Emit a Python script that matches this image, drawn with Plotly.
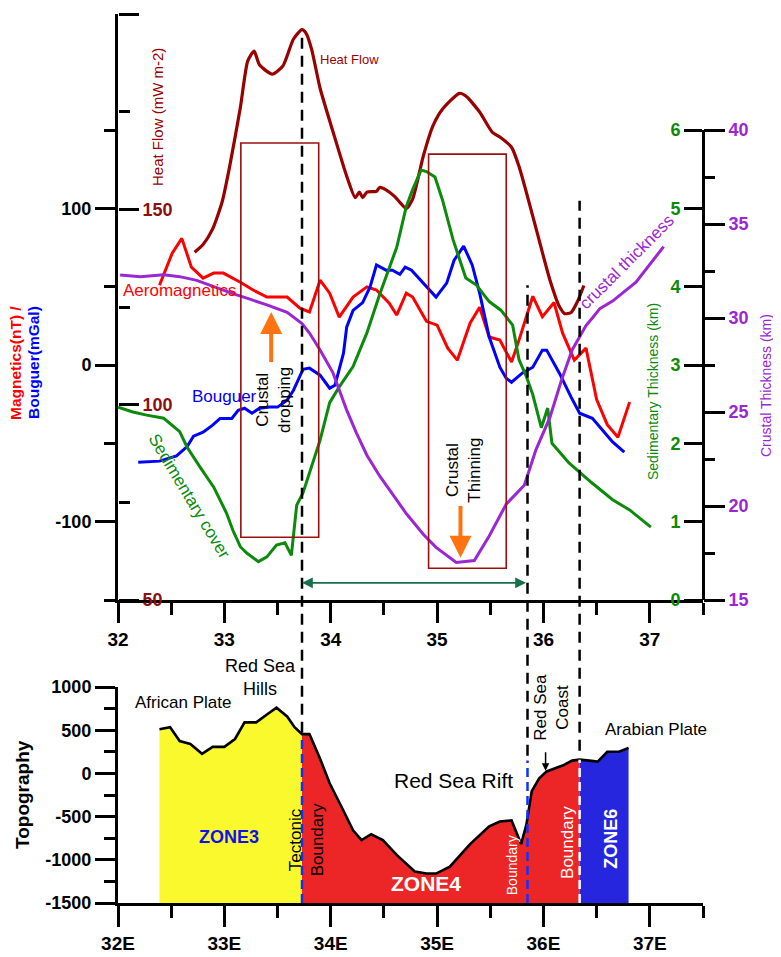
import plotly.graph_objects as go

# ---------------- data ----------------
hf_lon = [32.72, 32.80, 32.89, 32.98, 33.05, 33.15, 33.22, 33.28, 33.33, 33.45, 33.55, 33.65, 33.73, 33.77,
          33.82, 33.90, 34.02, 34.15, 34.23, 34.27, 34.30, 34.34, 34.43, 34.46, 34.52, 34.60, 34.65, 34.71,
          34.77, 34.87, 34.96, 35.05, 35.21, 35.27, 35.40, 35.52, 35.59, 35.70, 35.77, 35.90, 36.06, 36.15,
          36.20, 36.26, 36.32, 36.38]
hf_val = [139, 141, 145, 152, 161, 176, 188, 190.5, 187, 184.6, 186.7, 193.6, 196, 195,
          191, 181, 170, 158.5, 153, 154.4, 153, 154.4, 154.6, 155.6, 155, 153.3, 151.8, 150.2,
          152.6, 163.6, 171.3, 175.6, 179.7, 179, 174.9, 169.7, 168.5, 165.9, 161, 148.2, 132, 125.1,
          123.3, 123.6, 126.4, 130.5]

mag_lon = [32.39, 32.51, 32.60, 32.69, 32.80, 32.90, 32.99, 33.15, 33.27, 33.40, 33.59, 33.71, 33.80, 33.90,
           33.99, 34.08, 34.21, 34.34, 34.43, 34.55, 34.62, 34.71, 34.77, 34.90, 35.00, 35.10, 35.19, 35.31,
           35.40, 35.49, 35.59, 35.70, 35.77, 35.90, 35.99, 36.10, 36.18, 36.29, 36.40, 36.50, 36.60, 36.70, 36.81]
mag_val = [51, 71.6, 81, 62.6, 55.6, 58.8, 58.8, 53, 48, 43.5, 43.5, 36.4, 34, 54.3,
           46, 30.7, 43.5, 50, 48, 39.6, 32, 46, 43.5, 28, 25.6, 10.9, 3.2, 26.8,
           37, 18, 16, 2, 16, 44, 31, 40, 20.4, 3.2, 10.9, -22, -38, -46, -23.6]

bg_lon = [32.19, 32.39, 32.55, 32.65, 32.71, 32.80, 32.89, 32.96, 33.07, 33.13, 33.19, 33.26, 33.33, 33.43,
          33.50, 33.59, 33.65, 33.71, 33.74, 33.80, 33.90, 33.99, 34.04, 34.12, 34.15, 34.21, 34.30, 34.37,
          34.43, 34.52, 34.58, 34.65, 34.70, 34.76, 34.87, 34.99, 35.09, 35.16, 35.25, 35.33, 35.40, 35.49,
          35.59, 35.65, 35.70, 35.80, 35.90, 35.99, 36.03, 36.15, 36.26, 36.34, 36.46, 36.53, 36.65, 36.76]
bg_val = [-62, -61.3, -58, -52, -45.4, -42.8, -38.3, -34, -34, -28.8, -27.5, -30.7, -27.5, -26.8,
          -26.8, -22.4, -16, -7.7, -2.6, -1.9, -6.4, -14.7, -12.8, 7.7, 24.3, 35, 40, 50,
          64, 60.7, 60.7, 58, 62.6, 60.7, 52.4, 43.5, 52.4, 67, 76, 64, 46, 18,
          -1.3, -8.3, -10.9, -5.1, -1.3, 9.6, 9.6, -5.1, -20.4, -30.7, -33.9, -39.6, -49, -55.6]

sed_lon = [32.0, 32.14, 32.27, 32.43, 32.58, 32.65, 32.77, 32.90, 33.02, 33.08, 33.15, 33.21, 33.32, 33.40,
           33.49, 33.57, 33.63, 33.68, 33.74, 33.80, 33.90, 33.99, 34.08, 34.21, 34.34, 34.46, 34.62, 34.71,
           34.77, 34.85, 34.90, 34.98, 35.05, 35.15, 35.27, 35.37, 35.49, 35.60, 35.66, 35.71, 35.77, 35.84,
           35.90, 35.98, 36.04, 36.08, 36.24, 36.46, 36.65, 36.81, 37.01]
sed_val = [2.46, 2.40, 2.36, 2.32, 2.15, 1.95, 1.70, 1.44, 1.11, 0.89, 0.68, 0.60, 0.49, 0.55,
           0.70, 0.73, 0.57, 1.21, 1.37, 1.62, 2.04, 2.52, 2.72, 2.98, 3.41, 3.90, 4.5, 5.02,
           5.24, 5.49, 5.47, 5.40, 5.11, 4.60, 4.11, 4.02, 3.81, 3.70, 3.60, 3.51, 3.07, 2.85,
           2.62, 2.20, 2.45, 2.0, 1.75, 1.49, 1.28, 1.15, 0.93]

crust_lon = [32.02, 32.21, 32.43, 32.58, 32.74, 32.93, 33.08, 33.24, 33.40, 33.59, 33.73, 33.80, 33.90, 34.02,
             34.15, 34.24, 34.34, 34.46, 34.55, 34.71, 34.87, 34.99, 35.18, 35.35, 35.49, 35.65, 35.82, 35.93,
             36.06, 36.17, 36.27, 36.40, 36.46, 36.53, 36.65, 36.87, 37.13]
crust_val = [32.29, 32.2, 32.3, 32.2, 32.0, 31.6, 31.3, 31.0, 30.7, 30.3, 29.7, 29.2, 28.3, 27.1,
             25.1, 23.9, 22.7, 21.6, 20.9, 19.6, 18.5, 17.8, 17.0, 17.1, 18.4, 20.1, 21.1, 23.0,
             24.7, 26.7, 28.3, 29.6, 30.0, 30.5, 30.9, 31.9, 33.8]

topo_lon = [32.39, 32.49, 32.58, 32.68, 32.79, 32.89, 33.00, 33.10, 33.19, 33.30, 33.40, 33.49, 33.59, 33.66,
            33.73, 33.80, 33.90, 33.99, 34.12, 34.21, 34.29, 34.38, 34.49, 34.62, 34.79, 34.90, 34.99, 35.12,
            35.31, 35.49, 35.59, 35.70, 35.79, 35.84, 35.89, 35.96, 36.03, 36.18, 36.27, 36.34, 36.43, 36.51,
            36.60, 36.71, 36.80]
topo_val = [511, 534, 375, 341, 227, 307, 307, 398, 591, 591, 682, 761, 659, 534,
            454, 454, 170, -114, -432, -659, -772, -704, -772, -943, -1136, -1159, -1159, -1079,
            -818, -613, -557, -545, -818, -591, -205, -57, 23, 91, 148, 159, 148, 136,
            250, 250, 295]

zone_names = ["ZONE3", "ZONE4", "ZONE6"]
zone_edges = [32.39, 33.73, 36.34, 36.80]
zone_colors = ["#F9F92E", "#EC2626", "#2626DE"]

boundary_lon = [33.73, 35.85, 36.34]
boundary_top_mag = [214, 51, 105]
boundary_black_end_topo = [470, 204, 261]
boundary_low_top_topo = [420, 150, 159]
boundary_low_color = ["#1030FF", "#1030FF", "white"]

mag_ticks = [-100, 0, 100]
mag_ticktext = ["-100", "0", "100"]
hf_ticks = [50, 100, 150, 200]
sed_ticks = [0, 1, 2, 3, 4, 5, 6]
crust_ticks = [15, 20, 25, 30, 35, 40]
topo_ticks = [-1500, -1000, -500, 0, 500, 1000]
topo_ticktext = ["-1500", "-1000", "-500", "0", "500", "1000"]
lon_ticks = [32, 33, 34, 35, 36, 37]

# ---------------- layout geometry ----------------
# the page body has an 8px margin, so the figure is drawn 8px in and 8px down
OFF = 8
FW, FH = 781 - OFF, 957 - OFF


def px_x(px):
    return (px - OFF) / FW


def px_y(py):
    return 1 - (py - OFF) / FH


XD = [px_x(118), px_x(703)]
TOP_D = [px_y(600), px_y(14)]
SED_D = [px_y(600), px_y(130)]
BOT_D = [px_y(903), px_y(687)]
MAG_R = [-150, 224.3]
HF_R = [50, 200]
TOPO_R = [-1500, 1000]
LON_R = [32, 37.5]

FONT = "Liberation Sans, Arial, sans-serif"
C_HF = "#990000"
C_MAG = "#FF0000"
C_BG = "#0000FF"
C_SED = "#0B8A0B"
C_CR = "#9B26D4"
C_OR = "#FF7410"


def to_paper(v, rng, dom):
    return dom[0] + (v - rng[0]) / (rng[1] - rng[0]) * (dom[1] - dom[0])


def lon_paper(v):
    return to_paper(v, LON_R, XD)


fig = go.Figure()

# top panel curves
fig.add_trace(go.Scatter(x=hf_lon, y=hf_val, xaxis="x", yaxis="y2", mode="lines",
                         line=dict(color=C_HF, width=3.2, smoothing=0.6), line_shape="spline"))
fig.add_trace(go.Scatter(x=sed_lon, y=sed_val, xaxis="x", yaxis="y3", mode="lines",
                         line=dict(color=C_SED, width=3)))
fig.add_trace(go.Scatter(x=crust_lon, y=crust_val, xaxis="x", yaxis="y4", mode="lines",
                         line=dict(color=C_CR, width=3)))
fig.add_trace(go.Scatter(x=mag_lon, y=mag_val, xaxis="x", yaxis="y", mode="lines",
                         line=dict(color=C_MAG, width=3)))
fig.add_trace(go.Scatter(x=bg_lon, y=bg_val, xaxis="x", yaxis="y", mode="lines",
                         line=dict(color=C_BG, width=3)))

# bottom panel zones
for i, name in enumerate(zone_names):
    lo, hi = zone_edges[i], zone_edges[i + 1]
    xs = [x for x in topo_lon if lo <= x <= hi]
    ys = [y for x, y in zip(topo_lon, topo_val) if lo <= x <= hi]
    fig.add_trace(go.Scatter(x=xs + [hi, lo], y=ys + [TOPO_R[0], TOPO_R[0]], xaxis="x2", yaxis="y5",
                             mode="lines", fill="toself", fillcolor=zone_colors[i],
                             line=dict(width=0, color=zone_colors[i])))
fig.add_trace(go.Scatter(x=topo_lon, y=topo_val, xaxis="x2", yaxis="y5", mode="lines",
                         line=dict(color="black", width=2.6)))

shapes = []
# boxes
box_specs = [(33.155, 33.887, -109.9, 141.9), (34.92, 35.65, -129.7, 134.8)]
for x0, x1, y0, y1 in box_specs:
    shapes.append(dict(type="rect", xref="x", yref="y", x0=x0, x1=x1, y0=y0, y1=y1,
                       line=dict(color="#9A1010", width=1.6)))
# boundary dashed lines
for i, lon in enumerate(boundary_lon):
    shapes.append(dict(type="line", xref="x", yref="paper", x0=lon, x1=lon,
                       y0=to_paper(boundary_black_end_topo[i], TOPO_R, BOT_D),
                       y1=to_paper(boundary_top_mag[i], MAG_R, TOP_D),
                       line=dict(color="black", width=2.5, dash="11px,7px")))
    shapes.append(dict(type="line", xref="x2", yref="y5", x0=lon, x1=lon,
                       y0=TOPO_R[0], y1=boundary_low_top_topo[i],
                       line=dict(color=boundary_low_color[i], width=2.5, dash="9px,5px")))

ann = []


def txt(x, y, s, color="black", size=17, angle=0, bold=False, xref="x", yref="y", **kw):
    ann.append(dict(x=x, y=y, xref=xref, yref=yref, text=s, showarrow=False, textangle=angle,
                    font=dict(family=FONT, size=size, color=color, weight="bold" if bold else "normal"),
                    xanchor="center", yanchor="middle", **kw))


# top-panel labels
txt(34.18, 195, "Heat Flow", C_HF, 13)
txt(32.58, 48, "Aeromagnetics", C_MAG, 17)
txt(33.0, -20, "Bouguer", C_BG, 17)
txt(32.67, -84, "Sedimentary cover", C_SED, 17, angle=59)
txt(33.46, -22, "Crustal<br>dropping", "black", 17, angle=-90)
txt(35.24, -67, "Crustal<br>Thinning", "black", 17, angle=-90)
txt(36.79, 66, "crustal thickness", C_CR, 17, angle=-45)

# axis titles as annotations
txt(px_x(15), px_y(363), "Magnetics(nT) /", C_MAG, 15.5, -90, True, "paper", "paper")
txt(px_x(33), px_y(363), "Bouguer(mGal)", C_BG, 15.5, -90, True, "paper", "paper")
txt(px_x(157), px_y(117), "Heat Flow (mW m-2)", C_HF, 15, -90, False, "paper", "paper")
txt(px_x(653), px_y(392), "Sedimentary Thickness (km)", C_SED, 14, -90, False, "paper", "paper")
txt(px_x(766), px_y(386), "Crustal Thickness (km)", C_CR, 14, -90, False, "paper", "paper")
txt(px_x(22), px_y(795), "Topography", "black", 19, -90, True, "paper", "paper")

# bottom-panel labels
txt(32.61, 818, "African Plate", "black", 17, xref="x2", yref="y5")
txt(lon_paper(33.34), to_paper(1105, TOPO_R, BOT_D), "Red Sea<br>Hills", "black", 18,
    xref="paper", yref="paper")
txt(33.04, -738, "ZONE3", "#1010EE", 18, bold=True, xref="x2", yref="y5")
txt(33.77, -772, "Tectonic<br>Boundary", "black", 17, angle=-90, xref="x2", yref="y5")
txt(35.15, -80, "Red Sea Rift", "black", 21, xref="x2", yref="y5")
txt(34.90, -1272, "ZONE4", "white", 21, bold=True, xref="x2", yref="y5")
txt(35.70, -1068, "Boundary", "white", 14, angle=-90, xref="x2", yref="y5")
txt(36.08, 772, "Red Sea<br>Coast", "black", 17, angle=-90, xref="x2", yref="y5")
txt(36.22, -795, "Boundary", "white", 17, angle=-90, xref="x2", yref="y5")
txt(36.64, -761, "ZONE6", "white", 18, angle=-90, bold=True, xref="x2", yref="y5")
txt(37.06, 511, "Arabian Plate", "black", 17, xref="x2", yref="y5")

# arrows
ann.append(dict(x=33.73, y=-139, ax=35.85, ay=-139, xref="x", yref="y", axref="x", ayref="y",
                text="", showarrow=True, arrowhead=2, arrowside="end+start", arrowsize=1.2,
                arrowwidth=1.8, arrowcolor="#17704A"))
ann.append(dict(x=33.44, y=34, ax=33.44, ay=1, xref="x", yref="y", axref="x", ayref="y",
                text="", showarrow=True, arrowhead=2, arrowsize=1.1, arrowwidth=4, arrowcolor=C_OR))
ann.append(dict(x=35.22, y=-123, ax=35.22, ay=-89, xref="x", yref="y", axref="x", ayref="y",
                text="", showarrow=True, arrowhead=2, arrowsize=1.1, arrowwidth=4, arrowcolor=C_OR))
ann.append(dict(x=36.02, y=30, ax=36.02, ay=261, xref="x2", yref="y5", axref="x2", ayref="y5",
                text="", showarrow=True, arrowhead=2, arrowsize=1, arrowwidth=1.5, arrowcolor="black"))

tickf = dict(family=FONT, size=18, color="black", weight="bold")
minor_common = dict(tickwidth=3, tickcolor="black", showgrid=False)

fig.update_layout(
    width=FW, height=FH, autosize=False, showlegend=False,
    margin=dict(l=0, r=0, t=0, b=0, autoexpand=False),
    paper_bgcolor="white", plot_bgcolor="rgba(0,0,0,0)",
    shapes=shapes, annotations=ann,
    xaxis=dict(domain=XD, range=LON_R, anchor="y", showgrid=False, zeroline=False, automargin=False,
               showline=True, linecolor="black", linewidth=3,
               tickmode="array", tickvals=lon_ticks, ticktext=[str(t) for t in lon_ticks],
               ticks="outside", ticklen=20, tickwidth=3, tickcolor="black",
               tickfont=dict(family=FONT, size=19, color="black", weight="bold"),
               minor=dict(tickmode="linear", tick0=32, dtick=0.5, ticks="outside", ticklen=12, **minor_common)),
    yaxis=dict(domain=TOP_D, range=MAG_R, anchor="x", side="left", showgrid=False, zeroline=False,
               automargin=False, showline=True, linecolor="black", linewidth=3,
               tickmode="array", tickvals=mag_ticks, ticktext=mag_ticktext,
               ticks="outside", ticklen=20, tickwidth=3, tickcolor="black", tickfont=tickf,
               minor=dict(tickmode="array", tickvals=[-150, -50, 50, 150], ticks="outside",
                          ticklen=11, **minor_common)),
    # heat flow axis: drawn at the left edge but with ticks/labels facing the plot
    yaxis2=dict(overlaying="y", range=HF_R, anchor="free", position=XD[0], side="right",
                showgrid=False, zeroline=False, automargin=False, showline=False,
                tickmode="array", tickvals=hf_ticks, ticktext=[str(t) for t in hf_ticks],
                ticks="outside", ticklen=20, tickwidth=3, tickcolor="black",
                tickfont=dict(family=FONT, size=18, color="#8B1010", weight="bold"),
                minor=dict(tickmode="array", tickvals=[75, 125, 175], ticks="outside",
                           ticklen=11, **minor_common)),
    # sedimentary axis: at the right edge with ticks/labels facing the plot
    yaxis3=dict(domain=SED_D, range=[0, 6], anchor="free", position=XD[1], side="left",
                showgrid=False, zeroline=False, automargin=False,
                showline=True, linecolor="black", linewidth=3,
                tickmode="array", tickvals=sed_ticks, ticktext=[str(t) for t in sed_ticks],
                ticks="outside", ticklen=18, tickwidth=3, tickcolor="black",
                tickfont=dict(family=FONT, size=18, color=C_SED, weight="bold")),
    yaxis4=dict(overlaying="y3", range=[15, 40], anchor="free", position=XD[1], side="right",
                showgrid=False, zeroline=False, showline=False, automargin=False,
                tickmode="array", tickvals=crust_ticks, ticktext=[str(t) for t in crust_ticks],
                ticks="outside", ticklen=21, tickwidth=3, tickcolor="black",
                tickfont=dict(family=FONT, size=18, color=C_CR, weight="bold"),
                minor=dict(tickmode="linear", tick0=15, dtick=2.5, ticks="outside", ticklen=11, **minor_common)),
    xaxis2=dict(domain=XD, range=LON_R, anchor="y5", showgrid=False, zeroline=False, automargin=False,
                showline=True, linecolor="black", linewidth=3,
                tickmode="array", tickvals=lon_ticks, ticktext=[f"{t}E" for t in lon_ticks],
                ticks="outside", ticklen=21, tickwidth=3, tickcolor="black",
                tickfont=dict(family=FONT, size=19, color="black", weight="bold"),
                minor=dict(tickmode="linear", tick0=32, dtick=0.5, ticks="outside", ticklen=12, **minor_common)),
    yaxis5=dict(domain=BOT_D, range=TOPO_R, anchor="x2", side="left", showgrid=False, zeroline=False,
                automargin=False, showline=True, linecolor="black", linewidth=3,
                tickmode="array", tickvals=topo_ticks, ticktext=topo_ticktext,
                ticks="outside", ticklen=20, tickwidth=3, tickcolor="black", tickfont=tickf,
                minor=dict(tickmode="linear", tick0=-1500, dtick=250, ticks="outside", ticklen=11, **minor_common)),
)

fig.write_html("out.html",
               post_script="document.documentElement.style.overflow='hidden';"
                           "document.body.style.overflow='hidden';")
